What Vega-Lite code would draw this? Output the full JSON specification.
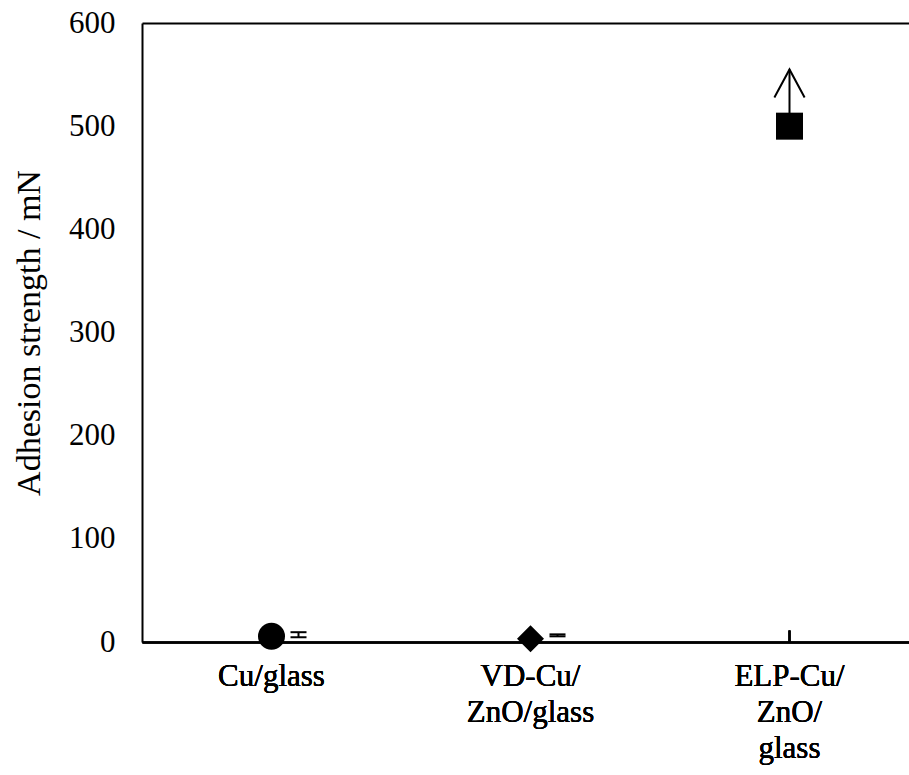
{
  "$schema": "https://vega.github.io/schema/vega-lite/v6.json",
  "width": 767,
  "height": 619,
  "autosize": {"type": "none"},
  "padding": {"left": 142, "top": 23, "right": 0, "bottom": 133},
  "background": "white",
  "config": {
    "view": {"stroke": null},
    "font": "Liberation Serif",
    "axis": {
      "labelFont": "Liberation Serif",
      "titleFont": "Liberation Serif",
      "labelColor": "black",
      "titleColor": "black",
      "domainColor": "black",
      "domainWidth": 2,
      "grid": false
    }
  },
  "data": {
    "values": [
      {"sample": "Cu/glass", "value": 5.5, "lo": 4.6, "hi": 9.5, "arrow": null},
      {"sample": "VD-Cu/ZnO/glass", "value": 3.1, "lo": 5.5, "hi": 7.4, "arrow": null},
      {"sample": "ELP-Cu/ZnO/glass", "value": 500, "lo": null, "hi": null, "arrow": 555}
    ]
  },
  "encoding": {
    "x": {
      "field": "sample",
      "type": "nominal",
      "scale": {
        "domain": ["Cu/glass", "VD-Cu/ZnO/glass", "ELP-Cu/ZnO/glass"],
        "range": [0, 777],
        "paddingInner": 0,
        "paddingOuter": 0
      },
      "axis": {
        "orient": "bottom",
        "title": null,
        "labelAngle": 0,
        "labelFontSize": 31,
        "labelPadding": 31,
        "labelLineHeight": 36,
        "labelLimit": 0,
        "labelExpr": "datum.value == 'VD-Cu/ZnO/glass' ? ['VD-Cu/', 'ZnO/glass'] : datum.value == 'ELP-Cu/ZnO/glass' ? ['ELP-Cu/', 'ZnO/', 'glass'] : datum.value",
        "ticks": true,
        "tickSize": -12,
        "tickWidth": 2,
        "tickColor": {"condition": {"test": "datum.value == 'ELP-Cu/ZnO/glass'", "value": "black"}, "value": "transparent"},
        "domainWidth": 2
      }
    }
  },
  "layer": [
    {
      "transform": [{"filter": "datum.arrow != null"}],
      "mark": {"type": "rule", "color": "black", "strokeWidth": 2},
      "encoding": {
        "x": {
          "field": "sample",
          "type": "nominal",
          "scale": {
            "domain": ["Cu/glass", "VD-Cu/ZnO/glass", "ELP-Cu/ZnO/glass"],
            "range": [0, 777],
            "paddingInner": 0,
            "paddingOuter": 0
          },
          "axis": {"orient": "top", "labels": false, "ticks": false, "title": null, "domain": true, "domainWidth": 2, "domainColor": "black"}
        },
        "y": {
          "field": "value",
          "type": "quantitative",
          "scale": {"domain": [0, 600], "nice": false, "zero": true},
          "axis": {
            "title": "Adhesion strength / mN",
            "titleFontSize": 34,
            "titleFontWeight": "normal",
            "titlePadding": 22,
            "labelFontSize": 31,
            "labelPadding": 27,
            "ticks": false,
            "tickSize": 0,
            "values": [0, 100, 200, 300, 400, 500, 600],
            "domainWidth": 2
          }
        },
        "y2": {"field": "arrow"}
      }
    },
    {
      "transform": [{"filter": "datum.arrow != null"}],
      "mark": {"type": "point", "shape": "M-0.54,1L0,0L0.54,1", "filled": false, "stroke": "black", "strokeWidth": 2, "size": 3136, "opacity": 1},
      "encoding": {
        "y": {"field": "arrow", "type": "quantitative"}
      }
    },
    {
      "transform": [{"filter": "datum.lo != null"}],
      "mark": {"type": "rule", "color": "black", "strokeWidth": 2, "xOffset": 27},
      "encoding": {
        "y": {"field": "lo", "type": "quantitative"},
        "y2": {"field": "hi"}
      }
    },
    {
      "transform": [{"filter": "datum.lo != null"}, {"fold": ["lo", "hi"], "as": ["end", "ev"]}],
      "mark": {"type": "tick", "orient": "horizontal", "color": "black", "thickness": 2, "size": 16, "xOffset": 27, "opacity": 1},
      "encoding": {
        "y": {"field": "ev", "type": "quantitative"}
      }
    },
    {
      "mark": {"type": "point", "filled": true, "color": "black", "opacity": 1, "size": 729},
      "encoding": {
        "y": {"field": "value", "type": "quantitative"},
        "shape": {
          "field": "sample",
          "type": "nominal",
          "scale": {"domain": ["Cu/glass", "VD-Cu/ZnO/glass", "ELP-Cu/ZnO/glass"], "range": ["circle", "diamond", "square"]},
          "legend": null
        }
      }
    }
  ],
  "resolve": {"axis": {"x": "independent"}}
}
